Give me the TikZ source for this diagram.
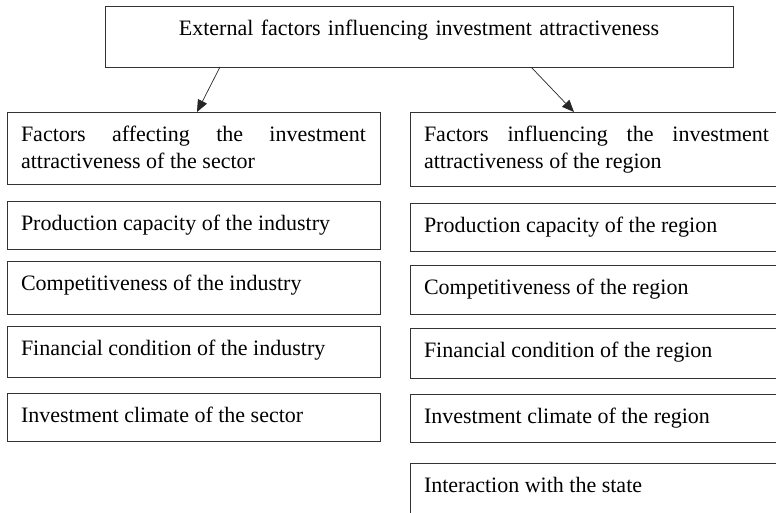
\documentclass[tikz,border=0pt]{standalone}
\usepackage{fontspec}
\setmainfont{Liberation Serif}
\usetikzlibrary{arrows.meta,calc}
\newcommand{\fsz}{\fontsize{22pt}{27pt}\selectfont\hyphenpenalty=10000\exhyphenpenalty=10000}
\tikzset{
  fbox/.style={draw=black!80, line width=0.9pt, anchor=north west, outer sep=0pt,
    inner xsep=14pt, inner ysep=0pt, text width=345pt, align=justify,
    text height=29pt, text depth=#1, font=\fsz},
  arr/.style={draw=black!85, line width=0.7pt, -{Triangle[length=12pt,width=10pt]}}
}
\begin{document}
\begin{tikzpicture}[x=1pt,y=-1pt]
\useasboundingbox (0,0) rectangle (776,512);
\clip (0,0) rectangle (776,512);
\node[fbox=32pt, text width=600pt, align=center] (top) at (105,6) {External factors influencing investment attractiveness};
% left column
\node[fbox=43pt] (l1) at (7,112) {Factors affecting the investment\linebreak attractiveness of the sector};
\node[fbox=19pt] (l2) at (7,201) {Production capacity of the industry};
\node[fbox=24pt] (l3) at (7,261) {Competitiveness of the industry};
\node[fbox=22pt] (l4) at (7,326) {Financial condition of the industry};
\node[fbox=19pt] (l5) at (7,393) {Investment climate of the sector};
% right column
\node[fbox=45pt] (r1) at (410,112) {Factors influencing the investment\linebreak attractiveness of the region};
\node[fbox=19pt] (r2) at (410,203) {Production capacity of the region};
\node[fbox=20pt] (r3) at (410,265) {Competitiveness of the region};
\node[fbox=21pt] (r4) at (410,328) {Financial condition of the region};
\node[fbox=19pt] (r5) at (410,394) {Investment climate of the region};
\node[fbox=40pt] (r6) at (410,463) {Interaction with the state};
% arrows
\draw[arr] ($(top.south west)+(115,0)$) -- ($(l1.north west)+(190,0)$);
\draw[arr] ($(top.south west)+(426,0)$) -- ($(r1.north west)+(164,0)$);
\end{tikzpicture}
\end{document}
